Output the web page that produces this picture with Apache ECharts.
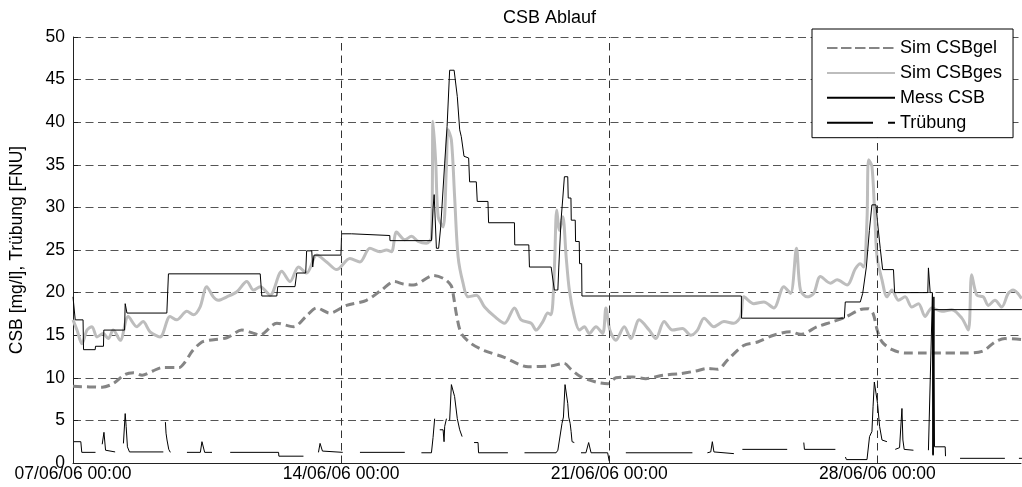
<!DOCTYPE html>
<html>
<head>
<meta charset="utf-8">
<script src="https://cdn.jsdelivr.net/npm/echarts@6/dist/echarts.min.js"></script>
<style>
  html, body { margin: 0; padding: 0; background: #fff; }
  #chart { width: 1022px; height: 487px; }
</style>
</head>
<body>
<div id="chart"></div>
<script>
// Time is given in hours since 07/06/06 00:00.
const startDate = Date.UTC(2006, 5, 7, 0, 0);
const xMax = 594;
const dayTicks = [168, 336, 504];

const seriesNames = ['Sim CSBgel', 'Sim CSBges', 'Mess CSB', 'Trübung'];

// Simulated dissolved COD
const simGel = [
  [0,9.0],[18.3,8.9],[25,9.3],[32.7,10.4],[38,10.6],[43.3,10.3],[50,10.8],[55.8,11.2],[66.4,11.2],
  [70,11.8],[75,13.2],[80.8,14.2],[85.2,14.4],[96.4,14.7],[105.8,15.6],[112,15.3],[117,15.0],
  [127.7,16.4],[138.3,16.0],[146,17.2],[152.7,18.2],[160.8,17.6],[171.4,18.5],[183.9,19.1],
  [193.3,20.3],[201.4,21.3],[207,21.0],[213.3,20.9],[225.8,22.0],[232.7,21.6],[237,20.8],
  [238.5,19.5],[240.2,17.5],[243.3,15.2],[249.6,14.0],[257.7,13.2],[270.2,12.4],[285.2,11.3],
  [299.6,11.4],[307.7,11.7],[312,11.0],[318.3,10.1],[327.7,9.5],[335.2,9.3],[340.2,10.0],
  [350.8,10.1],[358.9,9.9],[369.6,10.3],[380.8,10.5],[390.2,10.8],[397.7,11.1],[404,11.0],
  [410.2,12.1],[420.2,13.8],[429,14.2],[439,15.0],[449.6,15.4],[455.8,15.1],[466.4,16.0],
  [474.6,16.5],[482.7,17.0],[493.3,18.0],[498.3,18.1],[501.4,17.5],[503.9,15.6],[507,14.2],
  [513.3,13.3],[521.4,12.9],[532,12.9],[544.6,12.9],[557.1,12.9],[569.6,13.1],[577.7,14.2],
  [584,14.6],[594.6,14.5]
];

// Simulated total COD
const simGes = [
  [0,16.8],[2.5,15.6],[5.6,14.0],[8.8,15.6],[11.9,16.0],[15.0,14.8],[18.9,15.2],[22.1,14.6],
  [25.2,15.6],[29.6,14.4],[34.6,17.2],[40.0,16.0],[43.9,16.6],[48.3,15.4],[54.6,14.8],[60.8,17.2],
  [65.0,16.8],[71.3,17.8],[75.4,17.4],[79.6,18.3],[83.8,20.7],[87.9,19.5],[91.0,19.1],[96.4,19.5],
  [102.7,20.1],[108.9,21.3],[113.1,20.3],[117.3,20.7],[123.5,19.7],[130.8,22.5],[136.0,21.3],
  [141.3,23.0],[146.4,22.3],[152.7,24.4],[158.9,23.6],[165.2,22.7],[173.5,24.0],[179.8,23.6],
  [186.0,25.2],[192.3,24.8],[196.4,25.0],[199.6,24.8],[202.7,27.1],[207.9,26.2],[212.1,26.6],
  [216.3,26.0],[221.4,25.8],[224.6,26.4],[225.6,40.1],[227.3,35.2],[228.8,28.9],[231.9,27.7],
  [233.9,34.4],[235.0,39.1],[237.1,37.9],[239.1,31.3],[241.3,24.2],[244.4,21.1],[247.5,19.5],
  [252.7,19.7],[257.9,18.3],[264.1,17.2],[270.4,16.4],[276.6,18.2],[280.8,16.8],[287.1,16.4],
  [290.2,15.6],[294.4,16.6],[297.5,17.6],[299.6,17.4],[301.6,22.7],[303.1,29.7],[304.8,27.3],
  [306.9,28.9],[309.0,24.2],[311.0,20.3],[314.1,17.2],[317.3,15.6],[320.4,16.0],[323.5,15.2],
  [327.7,16.0],[331.9,15.2],[333.9,18.2],[336.4,15.6],[340.2,14.4],[345.4,16.0],[349.6,14.6],
  [354.8,16.8],[361.0,15.6],[365.2,14.6],[370.4,16.6],[375.6,15.6],[381.9,15.8],[387.1,15.0],
  [391.3,15.6],[395.4,17.0],[401.6,16.0],[407.9,16.6],[414.1,16.4],[418.3,17.2],[420.4,19.5],
  [426.6,18.7],[432.9,18.9],[439.1,18.2],[445.4,20.7],[449.6,19.9],[453.3,25.2],[455.8,20.3],
  [460.0,19.5],[464.1,19.9],[468.3,21.9],[474.6,21.1],[478.8,21.5],[485.0,20.9],[490.2,22.8],
  [493.3,23.4],[495.4,23.0],[497.5,28.5],[498.5,35.6],[500.6,34.8],[502.3,29.3],[503.8,24.2],
  [506.9,21.5],[510.0,19.5],[513.1,20.3],[517.3,19.1],[521.4,19.5],[525.6,18.3],[529.8,18.7],
  [533.9,17.2],[538.1,18.2],[544.4,17.8],[550.6,18.0],[556.9,17.0],[561.0,15.6],[563.1,22.1],
  [566.3,19.7],[570.4,19.5],[573.5,18.5],[577.7,19.1],[581.9,18.3],[586.0,19.9],[589.1,20.3],
  [594.4,19.3]
];

// Measured COD (stepwise samples)
const messCsb = [
  [0,19.5],[1.4,16.8],[6.3,16.8],[6.6,13.3],[13.9,13.3],[14.1,13.7],[19.1,13.7],[19.3,15.6],
  [32.3,15.6],[32.7,18.7],[33.8,17.6],[58.8,17.6],[59.8,22.2],[117.3,22.2],[118.3,19.6],
  [127.7,19.6],[128.3,20.7],[139.1,20.7],[140.2,22.3],[145.8,22.3],[146.4,24.9],[149.6,24.9],
  [150.2,23.0],[151.0,24.4],[167.9,24.4],[168.3,26.9],[174.6,26.9],[175.0,26.7],[198.5,26.7],
  [198.6,26.1],[224.6,26.1],[225.6,29.9],[226.3,31.5],[227.7,25.2],[229.1,25.2],[230.4,27.7],
  [232.9,35.2],[234.4,39.5],[236.0,46.1],[238.8,46.1],[240.8,43.0],[242.3,39.1],[243.3,38.3],
  [245.0,36.0],[247.9,35.8],[248.5,33.0],[252.7,33.0],[253.3,30.7],[260.0,30.7],[260.4,28.2],
  [276.6,28.2],[276.8,25.6],[285.6,25.6],[286.0,23.0],[299.6,23.0],[301.6,20.3],[303.8,20.3],
  [304.4,23.0],[305.8,28.5],[306.9,31.1],[307.9,33.6],[310.0,33.6],[310.3,31.1],[312.0,31.1],
  [312.2,28.5],[314.7,28.5],[314.9,26.0],[317.2,26.0],[317.4,23.4],[318.7,23.4],[318.9,19.6],
  [418.8,19.6],[418.9,17.0],[483.3,17.0],[483.9,18.9],[493.3,18.9],[494.8,19.9],[497.1,23.0],
  [499.0,27.3],[500.6,30.3],[503.1,30.3],[504.4,27.7],[505.8,25.2],[507.3,22.7],[514.1,22.7],
  [514.8,20.0],[535.6,20.0],[536.0,22.9],[537.1,20.0],[538.5,20.0],[538.9,1.0],[539.4,18.0],
  [594.6,18.0]
];

// Turbidity (gaps mark missing readings)
const truebung = [
  [0.6,2.5],[4.9,2.5],[5.5,1.25],[14.1,1.25],[14.2,null],
  [18.3,2.2],[19.4,3.6],[20.4,1.5],[21.3,1.3],[26.4,1.3],[26.5,null],
  [31.6,2.3],[32.7,5.8],[33.3,4.3],[34.1,1.9],[35.4,1.3],[56.6,1.3],[56.7,null],
  [57.9,4.8],[58.3,3.5],[58.9,2.7],[60.0,1.6],[61.0,1.25],[61.1,null],
  [71.4,1.25],[79.8,1.25],[80.8,2.5],[81.4,2.5],[82.5,1.25],[87.1,1.25],[87.2,null],
  [98.5,1.25],[128.8,1.25],[129.0,0.8],[144.4,0.8],[144.5,null],
  [153.8,1.25],[154.8,2.3],[156.3,1.4],[169.0,1.25],[169.1,null],
  [179.8,1.25],[207.9,1.25],[208.0,null],
  [218.3,1.2],[224.6,1.2],[225.6,3.0],[226.6,5.2],[226.7,null],
  [229.8,3.9],[231.9,3.9],[232.5,2.5],[232.9,4.3],[234.0,5.2],[234.1,null],
  [236.0,5.0],[237.1,9.2],[238.1,9.0],[239.1,7.8],[240.8,5.2],[241.6,5.0],[242.3,3.9],[243.8,3.1],[243.9,null],
  [251.3,2.4],[253.8,2.4],[254.1,1.2],[272.5,1.2],[272.6,null],
  [282.9,1.2],[302.7,1.2],[303.8,1.5],[304.8,2.7],[306.4,4.65],[307.3,5.4],[308.3,9.2],[309.4,9.0],
  [310.0,7.0],[310.6,5.4],[311.5,4.65],[312.1,3.7],[312.7,2.5],[314.1,2.4],[314.2,null],
  [318.3,1.2],[321.4,1.2],[323.1,2.4],[324.6,1.2],[335.0,1.2],[336.0,0.2],[336.1,null],
  [346.4,1.2],[388.1,1.2],[388.2,null],
  [397.5,1.2],[399.6,1.3],[400.6,2.5],[401.6,1.3],[414.1,1.1],[414.2,null],
  [419.4,1.6],[447.5,1.6],[447.6,null],
  [457.9,2.4],[458.3,1.6],[477.7,1.6],[477.8,null],
  [484.0,0.7],[484.6,0.4],[497.5,0.4],[499.1,3.1],[500.6,3.7],[501.3,6.6],[502.1,9.5],[503.3,9.5],
  [504.1,7.0],[505.4,4.3],[506.9,2.7],[510.0,2.5],[510.1,null],
  [515.2,1.6],[517.9,1.8],[519.4,6.4],[520.0,2.7],[520.8,1.6],[526.6,1.5],[526.7,null],
  [536.0,1.5],[537.1,1.5],[538.5,19.8],[538.9,0.9],[539.4,19.5],[539.8,1.9],[546.5,1.9],[546.7,0.8],[546.8,null],
  [555.8,0.55],[583.9,0.55],[584.0,null],
  [592.7,0.55],[594.6,0.55]
];

const yTicks = { min: 0, max: 50, interval: 5 };

const FONT = 'Liberation Sans, Arial, Helvetica, sans-serif';

function pad2(n) { return (n < 10 ? '0' : '') + n; }
function formatHours(h) {
  const d = new Date(startDate + h * 3600e3);
  return pad2(d.getUTCDate()) + '/' + pad2(d.getUTCMonth() + 1) + '/' +
    pad2(d.getUTCFullYear() % 100) + ' ' + pad2(d.getUTCHours()) + ':' + pad2(d.getUTCMinutes());
}

const chart = echarts.init(document.getElementById('chart'), null, { renderer: 'canvas' });

chart.setOption({
  animation: false,
  backgroundColor: '#fff',
  textStyle: { fontFamily: FONT },
  title: {
    text: 'CSB Ablauf',
    left: 503,
    top: 9,
    padding: 0,
    textStyle: { fontFamily: FONT, fontSize: 18, fontWeight: 'normal', color: '#000' }
  },
  grid: { left: 71, right: 1, top: 37, bottom: 24, containLabel: false },
  legend: {
    orient: 'vertical',
    left: 812,
    top: 29,
    z: 100,
    padding: [10, 11, 6, 14],
    itemWidth: 68,
    itemHeight: 18,
    itemGap: 6.9,
    backgroundColor: '#fff',
    borderColor: '#000',
    borderWidth: 1,
    borderRadius: 0,
    itemStyle: { opacity: 0, borderWidth: 0 },
    textStyle: { fontFamily: FONT, fontSize: 18, color: '#000', lineHeight: 18 },
    data: [
      { name: seriesNames[0], lineStyle: { type: [10.5, 3.5] } },
      { name: seriesNames[1] },
      { name: seriesNames[2] },
      { name: seriesNames[3], lineStyle: { type: [46, 15, 7, 200] } }
    ]
  },
  xAxis: {
    type: 'value',
    min: 0,
    max: xMax,
    interval: 168,
    axisLine: { show: true, onZero: false, lineStyle: { color: '#222', width: 1 } },
    axisTick: { show: true, inside: true, length: 5, lineStyle: { color: '#222' } },
    axisLabel: {
      margin: 2,
      fontFamily: FONT,
      fontSize: 17.5,
      color: '#000',
      showMaxLabel: false,
      formatter: function (v) { return (v % 168 === 0) ? formatHours(v) : ''; }
    },
    splitLine: { show: false }
  },
  yAxis: {
    type: 'value',
    min: yTicks.min,
    max: yTicks.max,
    interval: yTicks.interval,
    name: 'CSB [mg/l], Trübung [FNU]',
    nameLocation: 'middle',
    nameGap: 47,
    nameTextStyle: { fontFamily: FONT, fontSize: 17.5, color: '#000' },
    axisLine: { show: true, lineStyle: { color: '#222', width: 1 } },
    axisTick: { show: true, inside: true, length: 5, lineStyle: { color: '#222' } },
    axisLabel: { margin: 8, fontFamily: FONT, fontSize: 17.5, color: '#000' },
    splitLine: { show: true, lineStyle: { color: '#555', width: 1, type: [8, 4.5] } }
  },
  series: [
    {
      name: seriesNames[0],
      type: 'line',
      data: simGel,
      symbol: 'none',
      smooth: 0.3,
      z: 2,
      lineStyle: { color: '#858585', width: 3, type: [9, 5] },
      itemStyle: { color: '#858585' },
      markLine: {
        silent: true,
        symbol: ['none', 'none'],
        label: { show: false },
        lineStyle: { color: '#333', width: 1, type: [7.5, 5] },
        data: dayTicks.map(function (t) { return { xAxis: t }; })
      }
    },
    {
      name: seriesNames[1],
      type: 'line',
      data: simGes,
      symbol: 'none',
      smooth: 0.3,
      z: 3,
      lineStyle: { color: '#bdbdbd', width: 3 },
      itemStyle: { color: '#bdbdbd' }
    },
    {
      name: seriesNames[2],
      type: 'line',
      data: messCsb,
      symbol: 'none',
      z: 4,
      lineStyle: { color: '#000', width: 1 },
      itemStyle: { color: '#000' }
    },
    {
      name: seriesNames[3],
      type: 'line',
      data: truebung,
      symbol: 'none',
      connectNulls: false,
      z: 5,
      lineStyle: { color: '#000', width: 1 },
      itemStyle: { color: '#000' }
    }
  ]
});
</script>
</body>
</html>
